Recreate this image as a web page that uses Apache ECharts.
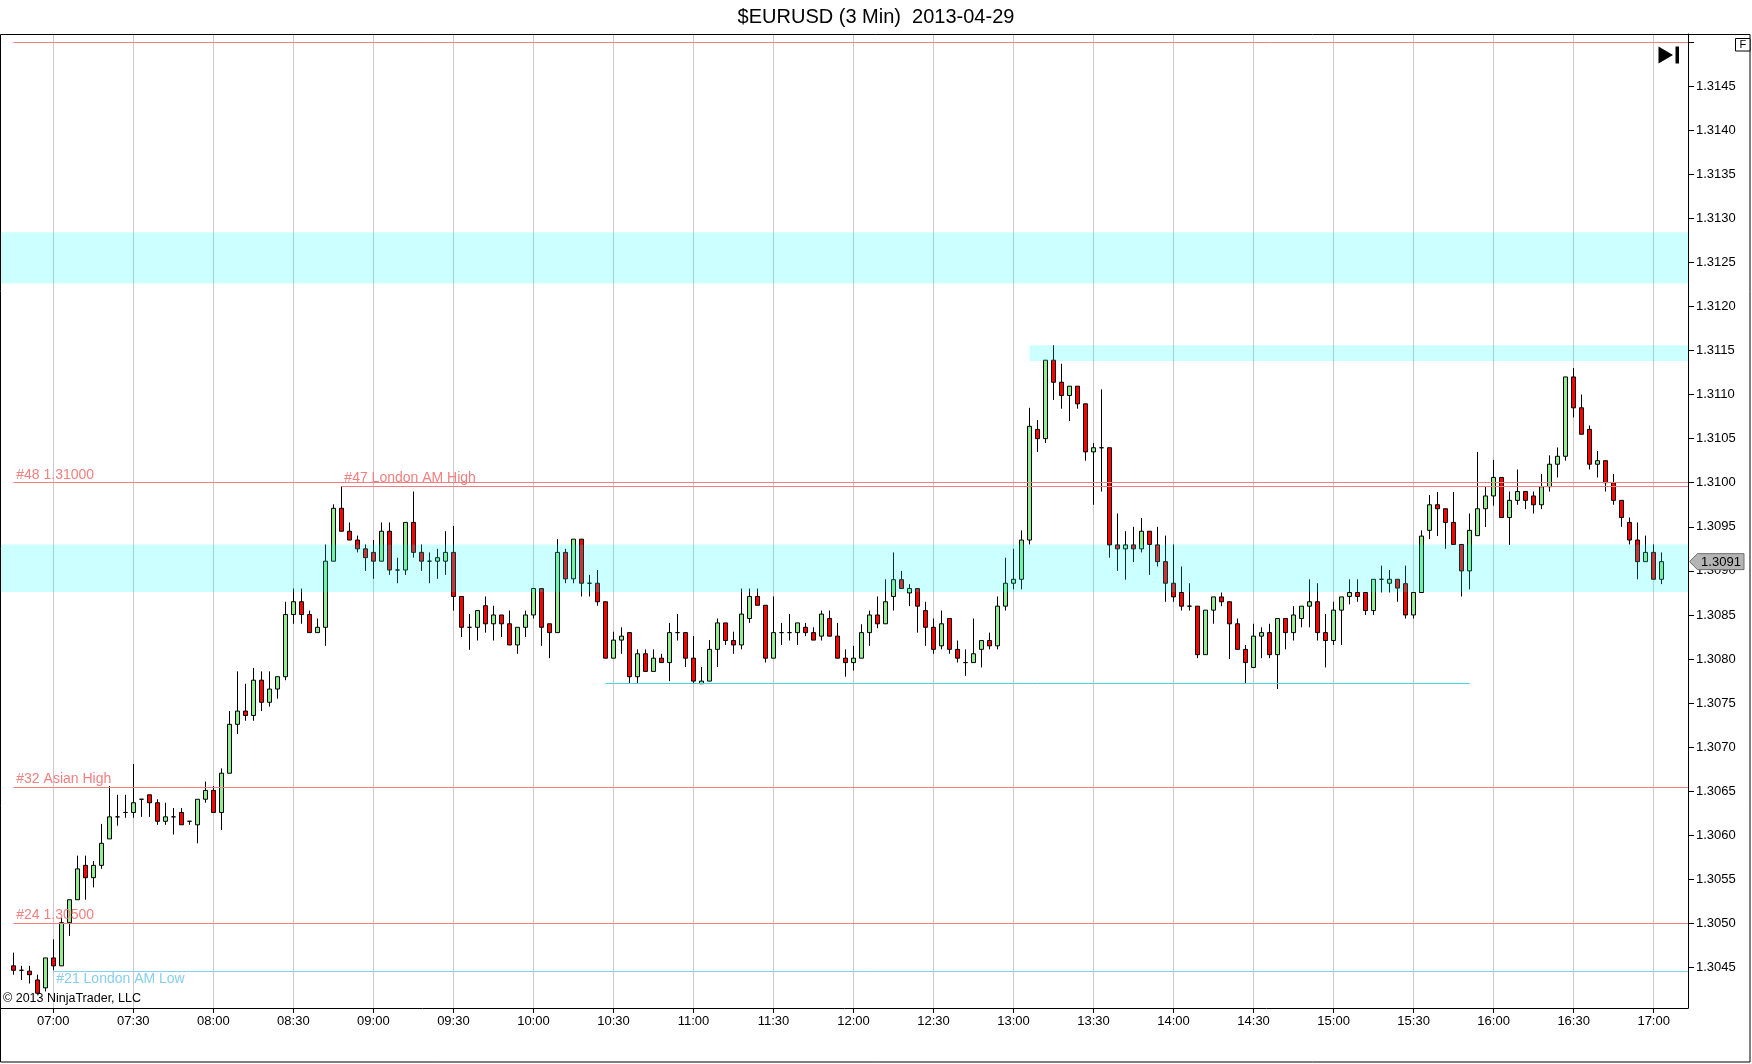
<!DOCTYPE html>
<html><head><meta charset="utf-8">
<script src="https://cdn.jsdelivr.net/npm/echarts@6/dist/echarts.min.js"></script>
<style>html,body{margin:0;padding:0;background:#fff}#c{width:1752px;height:1064px}</style>
</head><body><div id="c"></div>
<script>
// ---- data (3-minute bars, first bar 06:45) ----
const firstBar = '06:45';
const barStepMinutes = 3;

const opens = [1.30452,1.30447,1.30446,1.30436,1.30427,
 1.30461,1.30452,1.30501,1.30527,1.30566,1.30552,1.30566,1.30596,1.30621,1.30626,1.30626,1.30641,1.30646,1.30637,1.30616,1.30621,1.30626,1.30616,1.30612,1.30641,
 1.30651,1.30626,1.306705,1.30726,1.30741,1.30736,1.30776,1.30751,1.30766,1.3078,1.308505,1.30865,1.308505,1.3083,1.30836,1.30911,1.30971,1.30945,1.30935,1.30925,
 1.30921,1.30911,1.30945,1.30901,1.30901,1.30955,1.30921,1.30911,1.30911,1.30911,1.30921,1.30871,1.30836,1.30836,1.308605,1.3084,1.3085,1.3084,1.30816,1.30836,
 1.3085,1.3088,1.3084,1.3083,1.30921,1.30891,1.30936,1.30886,1.30886,1.30865,1.30801,1.308215,1.3083,1.3078,1.30806,1.30786,1.30801,1.30796,1.3083,1.3083,
 1.30801,1.30772,1.30775,1.30811,1.30841,1.30821,1.30816,1.30846,1.30871,1.30861,1.30801,1.3083,1.3083,1.3083,1.30836,1.3083,1.30826,1.30846,1.30826,1.30801,
 1.30796,1.30801,1.3083,1.3085,1.3084,1.30871,1.3089,1.30875,1.3088,1.30855,1.30836,1.30815,1.30846,1.30811,1.30796,1.30796,1.30811,1.30821,1.30815,1.3086,
 1.30886,1.308905,1.30935,1.310605,1.3105,1.31139,1.31114,1.31099,1.311095,1.310895,1.31035,1.310397,1.310397,1.309295,1.30925,1.309295,1.30925,1.30945,1.309295,1.309105,
 1.30886,1.308755,1.3086,1.3086,1.30805,1.308555,1.308705,1.30865,1.3084,1.30811,1.307905,1.30826,1.3083,1.30805,1.30846,1.3083,1.30846,1.3086,1.30865,1.3083,
 1.30821,1.308555,1.30871,1.308755,1.308755,1.30855,1.308905,1.30886,1.308905,1.308855,1.3085,1.308755,1.30946,1.30975,1.309705,1.30955,1.3093,1.309,1.3094,1.309705,
 1.30985,1.31006,1.309605,1.3098,1.3099,1.30985,1.30975,1.309955,1.31021,1.3103,1.3112,1.31085,1.310605,1.31021,1.31025,1.31,1.3098,1.30955,1.30935,1.309105,
 1.30921,1.308905];

const highs = [1.30467,1.30452,1.30452,1.30442,1.30461,
 1.30482,1.30507,1.30527,1.30577,1.30577,1.30571,1.30613,1.30656,1.30646,1.30646,1.30681,1.30641,1.30646,1.30641,1.30637,1.30631,1.30631,1.30616,1.30641,1.30661,
 1.30656,1.30676,1.30741,1.30786,1.30772,1.3079,1.30786,1.30786,1.3078,1.30865,1.3088,1.3088,1.30855,1.30846,1.3093,1.309755,1.30996,1.30955,1.3094,1.3093,
 1.30935,1.30955,1.30955,1.30915,1.30955,1.3099,1.3093,1.30921,1.30925,1.30945,1.30951,1.30871,1.30851,1.30855,1.30871,1.308605,1.3085,1.30855,1.30836,1.30855,
 1.3088,1.3088,1.3084,1.30936,1.30925,1.30936,1.30936,1.308955,1.30901,1.30865,1.30831,1.30836,1.3083,1.30811,1.30811,1.30811,1.30806,1.30841,1.30851,1.3083,
 1.30826,1.30791,1.308215,1.30846,1.30841,1.30831,1.3088,1.3088,1.3088,1.30861,1.30871,1.30841,1.30851,1.30841,1.30841,1.30836,1.30855,1.30855,1.30841,1.30811,
 1.30815,1.308395,1.30855,1.30871,1.308905,1.30921,1.309,1.30885,1.3088,1.30865,1.30846,1.30855,1.30846,1.30821,1.30811,1.30846,1.30821,1.3083,1.30871,1.30915,
 1.30925,1.30946,1.31085,1.31071,1.31139,1.31156,1.31135,1.311095,1.311095,1.310895,1.31045,1.31106,1.310397,1.30965,1.30945,1.3095,1.3096,1.30945,1.3095,1.3094,
 1.3093,1.30905,1.30886,1.3086,1.308555,1.308705,1.308755,1.30865,1.30846,1.30816,1.3084,1.30836,1.3084,1.30846,1.30846,1.3086,1.3086,1.308905,1.30886,1.30851,
 1.30865,1.308705,1.308905,1.308905,1.308755,1.308905,1.30906,1.30901,1.308905,1.30906,1.308755,1.30946,1.30986,1.309895,1.309705,1.309895,1.3093,1.30965,1.31035,1.309955,
 1.31026,1.31006,1.3099,1.31015,1.3099,1.3099,1.3101,1.31031,1.3104,1.3112,1.3113,1.311,1.31065,1.31036,1.31025,1.3101,1.3098,1.309605,1.30955,1.3094,
 1.3093,1.30921];

const lows = [1.30442,1.30436,1.30432,1.3042,1.30423,
 1.30447,1.30452,1.30486,1.30527,1.30527,1.30541,1.30562,1.30596,1.30611,1.3062,1.3062,1.30621,1.30621,1.30612,1.30612,1.30601,1.30612,1.30612,1.30591,1.30637,
 1.30626,1.30606,1.306705,1.30715,1.3073,1.3073,1.30741,1.30746,1.30755,1.30776,1.3084,1.3084,1.3083,1.3083,1.30815,1.30911,1.30945,1.30935,1.30921,1.309,
 1.30891,1.30911,1.308955,1.30886,1.308955,1.30915,1.309,1.30886,1.30891,1.308955,1.30855,1.30825,1.308105,1.30821,1.3083,1.30821,1.30825,1.30816,1.30806,1.30825,
 1.30846,1.30815,1.30801,1.3083,1.30886,1.30886,1.30871,1.30871,1.308605,1.30801,1.30801,1.30806,1.30772,1.30772,1.30786,1.30786,1.30796,1.30775,1.30821,1.30791,
 1.30772,1.30772,1.30775,1.30791,1.30816,1.30806,1.30811,1.30841,1.30861,1.30796,1.30801,1.30816,1.30821,1.30816,1.30826,1.308215,1.30821,1.30826,1.30801,1.3078,
 1.30787,1.30801,1.30815,1.30835,1.3084,1.30855,1.3088,1.3086,1.3083,1.30815,1.30806,1.30811,1.30806,1.30796,1.30781,1.30796,1.307905,1.30811,1.30811,1.30855,
 1.30879,1.30879,1.3093,1.31035,1.31045,1.31094,1.31084,1.3107,1.31084,1.31025,1.30975,1.3099,1.30915,1.309,1.3089,1.3091,1.30921,1.308955,1.30905,1.30865,
 1.30865,1.30855,1.30855,1.30801,1.30805,1.3084,1.3086,1.308,1.30811,1.30772,1.307905,1.30801,1.30801,1.30766,1.30811,1.30821,1.30836,1.30836,1.30821,1.307905,
 1.30816,1.30816,1.30862,1.30865,1.3085,1.3085,1.308755,1.308755,1.30865,1.30846,1.30846,1.308755,1.30936,1.309395,1.30925,1.3093,1.30871,1.30879,1.3094,1.309498,
 1.30974,1.309605,1.309295,1.30975,1.3097,1.30965,1.3097,1.3099,1.31006,1.31025,1.31074,1.31055,1.31015,1.31006,1.3099,1.30975,1.3095,1.3093,1.308905,1.309105,
 1.308905,1.30885];

const closes = [1.30447,1.30447,1.30442,1.30421,1.30461,
 1.30452,1.30501,1.30527,1.30562,1.30552,1.30566,1.30591,1.30621,1.30621,1.30626,1.30637,1.30641,1.30637,1.30616,1.30621,1.30621,1.30612,1.30616,1.30641,1.30651,
 1.30626,1.306705,1.30726,1.30741,1.30736,1.30776,1.30751,1.30766,1.3078,1.308505,1.30865,1.308505,1.3083,1.30836,1.30911,1.30971,1.30945,1.30935,1.30925,1.30915,
 1.30911,1.30945,1.30901,1.30901,1.30955,1.30921,1.30911,1.30911,1.30915,1.30921,1.30871,1.30836,1.30836,1.30855,1.3084,1.3085,1.3084,1.30816,1.30836,1.3085,
 1.3088,1.30836,1.3083,1.30921,1.30891,1.30936,1.30886,1.30886,1.30865,1.30801,1.308215,1.30826,1.3078,1.30806,1.30786,1.30801,1.30796,1.3083,1.3083,1.30801,
 1.30775,1.30775,1.30811,1.30841,1.30821,1.30816,1.30851,1.30871,1.30861,1.30801,1.3083,1.3083,1.3083,1.30841,1.3083,1.308215,1.30851,1.30826,1.30801,1.30796,
 1.30801,1.3083,1.3085,1.3084,1.30865,1.3089,1.3088,1.3088,1.3086,1.30836,1.30811,1.3084,1.30811,1.30801,1.30796,1.30806,1.30821,1.30815,1.3086,1.30886,
 1.308905,1.30935,1.31064,1.3105,1.31139,1.31114,1.31099,1.311095,1.310895,1.31035,1.310397,1.310397,1.309295,1.30925,1.309295,1.30925,1.30945,1.3093,1.309105,1.30886,
 1.308705,1.3086,1.3086,1.30805,1.308555,1.308705,1.30865,1.3084,1.30811,1.30796,1.30826,1.3083,1.30805,1.30846,1.3083,1.3085,1.3086,1.30865,1.3083,1.30821,
 1.308555,1.308705,1.308755,1.30871,1.30855,1.308905,1.308905,1.308905,1.308805,1.3085,1.308755,1.309395,1.30975,1.309705,1.30955,1.3093,1.309,1.30946,1.309705,1.30985,
 1.31006,1.309605,1.3098,1.3099,1.3098,1.30975,1.309955,1.31021,1.3103,1.3112,1.31085,1.31055,1.31021,1.31025,1.31,1.3098,1.309605,1.30935,1.309105,1.30921,
 1.308905,1.309105];

const xTickLabels = ['07:00','07:30','08:00','08:30','09:00','09:30','10:00','10:30','11:00','11:30','12:00',
  '12:30','13:00','13:30','14:00','14:30','15:00','15:30','16:00','16:30','17:00'];
const yTickLabels = ['1.3045','1.3050','1.3055','1.3060','1.3065','1.3070','1.3075','1.3080','1.3085','1.3090',
  '1.3095','1.3100','1.3105','1.3110','1.3115','1.3120','1.3125','1.3130','1.3135','1.3140','1.3145'];
const yTopTick = '1.3150';

// horizontal levels: text, price, from (time), to (time or null = right edge), kind
const levelTexts  = ['', '#48 1.31000', '#47 London AM High', '#32 Asian High', '#24 1.30500', '#21 London AM Low', ''];
const levelPrices = [1.3150, 1.3100, 1.30996, 1.30655, 1.3050, 1.30446, 1.30772];
const levelFrom   = ['06:45', '06:45', '08:48', '06:45', '06:45', '07:00', '10:27'];
const levelTo     = [null, null, null, null, null, null, '15:51'];
const levelKind   = ['red', 'red', 'red', 'red', 'red', 'blue', 'cyan'];

// shaded zones: upper price, lower price, start time (null = left edge)
const zoneTop    = [1.31284, 1.31156, 1.30930];
const zoneBottom = [1.31226, 1.31138, 1.30876];
const zoneFrom   = [null, '13:06', null];

// ---- helpers / layout ----
const toMin = t => { const [h, m] = t.split(':').map(Number); return h * 60 + m - 420; };
const fmtMin = v => { const t = Math.round(v) + 420; const h = Math.floor(t / 60), m = t % 60; return (h < 10 ? '0' : '') + h + ':' + (m < 10 ? '0' : '') + m; };
const X_MIN = -19.61, X_MAX = 612.87;
const Y_MIN = 1.304042, Y_MAX = 1.31509;
const FONT = 'Liberation Sans, Arial, sans-serif';

const startMin = toMin(firstBar);
const candles = opens.map((o, i) => [startMin + i * barStepMinutes, o, closes[i], lows[i], highs[i]]);
const lastClose = closes[closes.length - 1];

const kindColor = { red: '#F08080', blue: '#87CEEB', cyan: '#40D8E0' };
const levelLines = levelPrices.map((p, i) => {
  const lbl = levelTexts[i];
  const below = levelKind[i] === 'blue';
  return [
    { coord: [toMin(levelFrom[i]), p],
      lineStyle: { color: kindColor[levelKind[i]], width: 1, type: 'solid' },
      label: lbl ? { show: true, formatter: lbl, position: below ? 'insideStartBottom' : 'insideStartTop',
        distance: [3, 1], color: kindColor[levelKind[i]], fontSize: 14, fontFamily: FONT } : { show: false } },
    { coord: [levelTo[i] ? toMin(levelTo[i]) : X_MAX, p] }
  ];
});

const zoneAreas = zoneTop.map((t, i) => [
  { coord: [zoneFrom[i] ? toMin(zoneFrom[i]) : X_MIN, t] },
  { coord: [X_MAX, zoneBottom[i]] }
]);

const xTicks = xTickLabels.map(toMin);
const yTicks = yTickLabels.map(Number);

const chart = echarts.init(document.getElementById('c'), null, { renderer: 'canvas' });
chart.setOption({
  animation: false,
  backgroundColor: '#fff',
  textStyle: { fontFamily: FONT },
  title: { text: '$EURUSD (3 Min)  2013-04-29', left: 'center', top: 2,
    textStyle: { fontSize: 20, fontWeight: 'normal', color: '#000', fontFamily: FONT } },
  grid: { left: 1, right: 64, top: 34, bottom: 56, show: false },
  xAxis: {
    type: 'value', min: X_MIN, max: X_MAX,
    axisLine: { show: true, onZero: false, lineStyle: { color: '#000', width: 1 } },
    axisTick: { show: true, customValues: xTicks, length: 5, lineStyle: { color: '#000' } },
    axisLabel: { customValues: xTicks, formatter: v => fmtMin(v), color: '#000', fontSize: 13, margin: 7, fontFamily: FONT },
    splitLine: { show: true, lineStyle: { color: '#C8C8C8', width: 1 } }
  },
  yAxis: {
    type: 'value', position: 'right', min: Y_MIN, max: Y_MAX, scale: true,
    axisLine: { show: true, onZero: false, lineStyle: { color: '#000', width: 1 } },
    axisTick: { show: true, customValues: yTicks.concat([Number(yTopTick)]), length: 6, lineStyle: { color: '#000' } },
    axisLabel: { customValues: yTicks, formatter: v => v.toFixed(4), color: '#000', fontSize: 13, margin: 8, fontFamily: FONT },
    splitLine: { show: false }
  },
  series: [{
    type: 'candlestick',
    data: candles,
    barWidth: 5,
    itemStyle: { color: '#90EE90', color0: '#FF0000', borderColor: '#000', borderColor0: '#000', borderColorDoji: '#000', borderWidth: 1 },
    markArea: { silent: true, z: 3, itemStyle: { color: 'rgba(0,255,255,0.2)' }, label: { show: false }, data: zoneAreas },
    markLine: { silent: true, symbol: ['none', 'none'], animation: false, z: 5, data: levelLines }
  }]
});

// decorations; the last-price tag is placed through the axis scale
const tagY = chart.convertToPixel({ yAxisIndex: 0 }, lastClose);
const axisX = chart.convertToPixel({ xAxisIndex: 0 }, X_MAX);
chart.setOption({
  graphic: { elements: [
    { type: 'rect', id: 'frame', shape: { x: 0.5, y: 34.5, width: 1749.5, height: 1027.5 },
      style: { fill: null, stroke: '#000', lineWidth: 1 }, silent: true, z: 10 },
    { type: 'text', id: 'copy', left: 3, top: 992, style: { text: '\u00A9 2013 NinjaTrader, LLC', fill: '#000', font: '12.5px ' + FONT }, z: 10 },
    { type: 'polygon', id: 'playTri', shape: { points: [[1658.5, 46.5], [1673, 55], [1658.5, 63.5]] }, style: { fill: '#000' }, z: 10 },
    { type: 'rect', id: 'playBar', shape: { x: 1675.5, y: 46.5, width: 3.5, height: 17 }, style: { fill: '#000' }, z: 10 },
    { type: 'rect', id: 'fBox', shape: { x: 1735.5, y: 38.5, width: 14.5, height: 12.5 }, style: { fill: '#fff', stroke: '#000', lineWidth: 1 }, z: 10 },
    { type: 'text', id: 'fTxt', x: 1742.8, y: 45, style: { text: 'F', fill: '#000', font: '11px ' + FONT, align: 'center', verticalAlign: 'middle' }, z: 11 },
    { type: 'polygon', id: 'tagShape',
      shape: { points: [[axisX + 1.5, tagY], [axisX + 9.5, tagY - 8], [axisX + 56, tagY - 8], [axisX + 56, tagY + 8], [axisX + 9.5, tagY + 8]] },
      style: { fill: '#B4B4B4', stroke: '#6E6E6E', lineWidth: 1 }, z: 12 },
    { type: 'text', id: 'tagTxt', x: axisX + 33, y: tagY + 0.5,
      style: { text: lastClose.toFixed(4), fill: '#000', font: '13px ' + FONT, align: 'center', verticalAlign: 'middle' }, z: 13 }
  ] }
});
</script></body></html>
